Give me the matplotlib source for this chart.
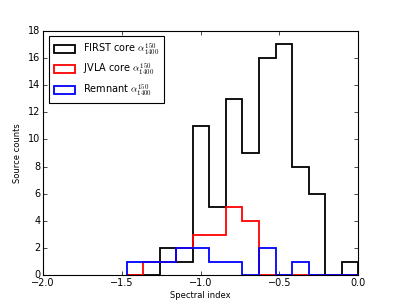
import matplotlib
matplotlib.use('Agg')
import matplotlib.pyplot as plt
import numpy as np

# bin edges of the spectral index histogram
edges = np.round(np.arange(-1.47, 0.0001, 0.105), 3)
first_core = [0, 0, 2, 1, 11, 5, 13, 9, 16, 17, 8, 6, 0, 1]
jvla_core = [0, 1, 1, 2, 3, 3, 5, 4, 0, 0, 0, 0, 0, 0]
remnant = [1, 1, 1, 2, 2, 1, 1, 0, 2, 0, 1, 0, 0, 0]
labels = [r'FIRST core $\alpha_{1400}^{150}$',
          r'JVLA core $\alpha_{1400}^{150}$',
          r'Remnant $\alpha_{1400}^{150}$']

plt.style.use('classic')
plt.rcParams['font.size'] = 6.5

fig = plt.figure(figsize=(3.99, 3.06), dpi=100, facecolor='white')
ax = fig.add_subplot(111)
fig.subplots_adjust(left=0.108, right=0.898, top=0.9, bottom=0.1)

centers = (edges[:-1] + edges[1:]) / 2
for counts, col, lab in zip([first_core, jvla_core, remnant], ['k', 'r', 'b'], labels):
    ax.hist(centers, bins=edges, weights=counts, histtype='step',
            color=col, lw=1.3, label=lab)

ax.set_xlim(-2.0, 0.0)
ax.set_ylim(0, 18)
ax.set_xticks([-2.0, -1.5, -1.0, -0.5, 0.0])
ax.set_yticks(range(0, 19, 2))
ax.tick_params(labelsize=7, length=3, width=0.5, pad=2)
for s in ax.spines.values():
    s.set_linewidth(0.8)
ax.set_xlabel('Spectral index', fontsize=6, labelpad=2)
ax.set_ylabel('Source counts', fontsize=6, labelpad=4)

leg = ax.legend(loc='upper left', fontsize=7, handlelength=2.2, handleheight=0.9,
                borderpad=0.5, labelspacing=0.55, handletextpad=0.8,
                borderaxespad=0.6)
leg.get_frame().set_linewidth(0.8)

fig.savefig('out.png', dpi=100, facecolor='white')
